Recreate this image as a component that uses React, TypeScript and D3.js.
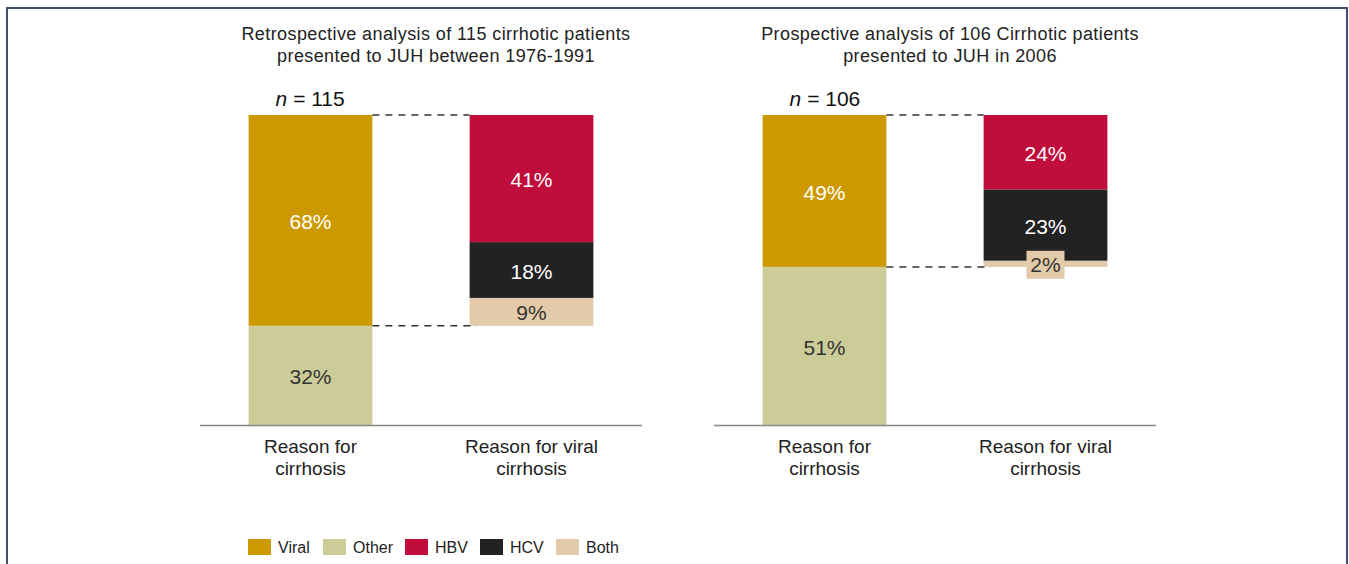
import React, { useEffect, useRef } from 'react';
import * as d3 from 'd3';

const panelTitles = [
  ['Retrospective analysis of 115 cirrhotic patients', 'presented to JUH between 1976-1991'],
  ['Prospective analysis of 106 Cirrhotic patients', 'presented to JUH in 2006'],
];
const panelN = ['115', '106'];
const categories = ['Reason for cirrhosis', 'Reason for viral cirrhosis'];
const categoryLines = [['Reason for', 'cirrhosis'], ['Reason for viral', 'cirrhosis']];

// bottom-to-top stacks
const reasonKeys = ['Other', 'Viral'];
const reasonValues = [
  [32, 68],
  [51, 49],
];
const viralKeys = ['Both', 'HCV', 'HBV'];
const viralValues = [
  [9, 18, 41],
  [2, 23, 24],
];

const legendKeys = ['Viral', 'Other', 'HBV', 'HCV', 'Both'];
const colors: Record<string, string> = {
  Viral: '#cc9900',
  Other: '#cccc99',
  HBV: '#c10d3b',
  HCV: '#222222',
  Both: '#e3caa8',
};
const textColors: Record<string, string> = {
  Viral: '#ffffff',
  Other: '#333333',
  HBV: '#ffffff',
  HCV: '#ffffff',
  Both: '#333333',
};

const W = 1349;
const H = 564;
const font = 'Arial, "Liberation Sans", sans-serif';

const App: React.FC = () => {
  const svgRef = useRef<SVGSVGElement | null>(null);

  useEffect(() => {
    if (!svgRef.current) return;
    const svg = d3.select(svgRef.current);
    svg.selectAll('*').remove();

    // frame
    svg.append('path')
      .attr('d', `M7,${H + 5} V8 H1347 V${H + 5}`)
      .attr('fill', 'none')
      .attr('stroke', '#3f4d70')
      .attr('stroke-width', 2);

    const y = d3.scaleLinear().domain([0, 100]).range([425, 115]);
    const panelX = [200, 714];
    const panelW = 442;

    panelX.forEach((px, pi) => {
      const g = svg.append('g');
      const x = d3.scaleBand<string>()
        .domain(categories)
        .range([px, px + panelW])
        .paddingInner(0.44)
        .paddingOuter(0.22);
      const bw = x.bandwidth();
      const cx = px + panelW / 2;

      // title
      panelTitles[pi].forEach((t, i) => {
        g.append('text')
          .attr('x', cx + 15)
          .attr('y', 40 + i * 22)
          .attr('text-anchor', 'middle')
          .attr('font-family', font)
          .attr('font-size', 18)
          .attr('letter-spacing', 0.4)
          .attr('fill', '#222')
          .text(t);
      });

      // n label
      const nt = g.append('text')
        .attr('x', (x(categories[0]) || 0) + 27)
        .attr('y', 106)
        .attr('font-family', font)
        .attr('font-size', 21)
        .attr('fill', '#111');
      nt.append('tspan').attr('font-style', 'italic').text('n');
      nt.append('tspan').text(` = ${panelN[pi]}`);

      const drawStack = (cat: string, keys: string[], vals: number[], base: number) => {
        const x0 = x(cat) || 0;
        let acc = base;
        const segs = keys.map((k, i) => {
          const s = { key: k, lo: acc, hi: acc + vals[i], v: vals[i] };
          acc += vals[i];
          return s;
        });
        g.selectAll(null)
          .data(segs)
          .join('rect')
          .attr('x', x0)
          .attr('y', d => y(d.hi))
          .attr('width', bw)
          .attr('height', d => y(d.lo) - y(d.hi))
          .attr('fill', d => colors[d.key]);
        segs.forEach(d => {
          const ty = (y(d.lo) + y(d.hi)) / 2;
          if (y(d.lo) - y(d.hi) < 20) {
            g.append('rect')
              .attr('x', x0 + bw / 2 - 19)
              .attr('y', ty - 13)
              .attr('width', 38)
              .attr('height', 28)
              .attr('fill', colors[d.key]);
          }
          g.append('text')
            .attr('x', x0 + bw / 2)
            .attr('y', ty + 1)
            .attr('dy', '0.36em')
            .attr('text-anchor', 'middle')
            .attr('font-family', font)
            .attr('font-size', 21)
            .attr('fill', textColors[d.key])
            .text(`${d.v}%`);
        });
        return acc;
      };

      const otherVal = reasonValues[pi][0];
      drawStack(categories[0], reasonKeys, reasonValues[pi], 0);
      drawStack(categories[1], viralKeys, viralValues[pi], otherVal);

      // dashed connectors
      const lx = (x(categories[0]) || 0) + bw;
      const rx = x(categories[1]) || 0;
      g.append('line')
        .attr('x1', lx).attr('x2', rx)
        .attr('y1', y(100)).attr('y2', y(100))
        .attr('stroke', '#333').attr('stroke-width', 1.5)
        .attr('stroke-dasharray', '7,6');
      g.append('line')
        .attr('x1', lx).attr('x2', rx + 7)
        .attr('y1', y(otherVal)).attr('y2', y(otherVal))
        .attr('stroke', '#333').attr('stroke-width', 1.5)
        .attr('stroke-dasharray', '7,6');

      // axis baseline
      g.append('line')
        .attr('x1', px).attr('x2', px + panelW)
        .attr('y1', y(0) + 0.5).attr('y2', y(0) + 0.5)
        .attr('stroke', '#888').attr('stroke-width', 1.5);

      // category labels
      categories.forEach((c, ci) => {
        categoryLines[ci].forEach((ln, li) => {
          g.append('text')
            .attr('x', (x(c) || 0) + bw / 2)
            .attr('y', 453 + li * 22)
            .attr('text-anchor', 'middle')
            .attr('font-family', font)
            .attr('font-size', 19)
            .attr('fill', '#222')
            .text(ln);
        });
      });
    });

    // legend
    const legendX = [248, 323, 405, 480, 556];
    const lg = svg.append('g');
    legendKeys.forEach((k, i) => {
      lg.append('rect')
        .attr('x', legendX[i]).attr('y', 539)
        .attr('width', 23).attr('height', 16)
        .attr('fill', colors[k]);
      lg.append('text')
        .attr('x', legendX[i] + 30)
        .attr('y', 547.5)
        .attr('dy', '0.36em')
        .attr('font-family', font)
        .attr('font-size', 16)
        .attr('fill', '#222')
        .text(k);
    });
  }, []);

  return (
    <div style={{ position: 'absolute', left: 0, top: 0 }}>
      <svg ref={svgRef} width={W} height={H} style={{ display: 'block', background: '#fff' }} />
    </div>
  );
};

export default App;
